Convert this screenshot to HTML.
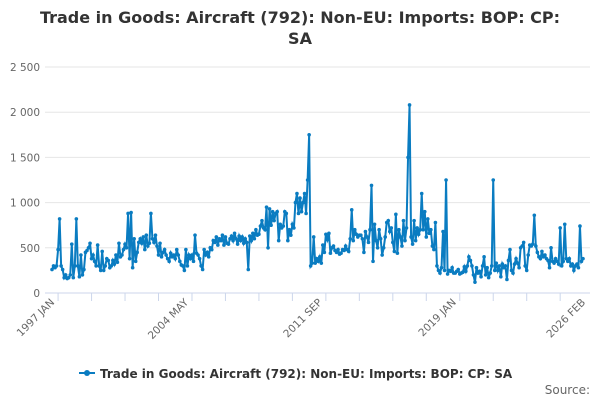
<!DOCTYPE html>
<html><head><meta charset="utf-8"><style>
body{margin:0;background:#fff;font-family:"DejaVu Sans","Liberation Sans",sans-serif}
svg{display:block;font-family:"DejaVu Sans","Liberation Sans",sans-serif}
</style></head><body>
<svg id="chart" width="600" height="400">
<text x="300" y="23" text-anchor="middle" font-size="16" font-weight="bold" fill="#333">Trade in Goods: Aircraft (792): Non-EU: Imports: BOP: CP:</text>
<text x="300" y="44" text-anchor="middle" font-size="16" font-weight="bold" fill="#333">SA</text>
<g id="grid"></g><g id="xaxis"></g><g id="series"></g>
<g>
<line x1="79" y1="373" x2="95" y2="373" stroke="#0a7cc1" stroke-width="2"/>
<circle cx="87" cy="373" r="3" fill="#0a7cc1"/>
<text x="100" y="378" font-size="12" font-weight="bold" fill="#333">Trade in Goods: Aircraft (792): Non-EU: Imports: BOP: CP: SA</text>
</g>
<text x="590" y="394" text-anchor="end" font-size="12" fill="#666">Source:</text>
</svg>
<script>
const yTicks=[0,500,1000,1500,2000,2500];
const yTickLabels=["0","500","1 000","1 500","2 000","2 500"];
const xLabels=["1997 JAN","2004 MAY","2011 SEP","2019 JAN","2026 FEB"];
const xLabelIdx=[0,88,176,264,349];
const values=[
260,300,280,300,480,820,300,260,170,200,
160,170,200,540,170,300,820,300,180,420,
200,260,450,470,500,550,380,420,350,300,
530,300,250,460,250,300,380,360,280,300,
360,320,420,340,550,400,420,480,540,500,
880,380,890,280,600,350,450,560,600,550,
620,480,640,520,550,880,600,560,640,520,
420,550,400,450,480,420,380,350,440,400,
420,380,480,420,350,310,300,250,480,300,
420,380,420,350,640,440,420,380,300,260,
480,420,450,400,500,480,580,560,620,530,
600,580,640,530,620,550,540,600,630,580,
660,600,540,630,580,620,550,600,560,260,
630,580,660,600,700,640,650,740,800,720,
700,950,500,930,750,900,800,880,900,580,
760,720,740,900,880,580,700,640,760,720,
1000,1100,880,1050,900,1000,1100,880,1250,1750,
300,330,620,330,380,350,400,330,530,450,
650,590,660,440,500,520,470,450,480,430,
440,480,470,520,480,460,600,920,580,700,
650,620,640,640,600,450,680,620,560,700,
1190,350,760,580,500,700,600,420,500,620,
780,800,680,720,560,460,870,440,700,620,
520,800,580,720,1500,2080,620,540,800,580,
720,650,700,1100,700,900,620,820,660,700,
520,480,780,300,250,220,280,680,250,1250,
210,250,240,280,220,220,240,260,210,220,
230,290,240,300,400,360,300,200,120,280,
220,240,180,300,400,200,280,170,220,300,
1250,250,330,250,300,180,320,280,300,150,
360,480,250,220,320,380,330,280,500,520,
560,300,250,420,530,520,540,860,520,450,
400,380,460,400,420,380,360,280,500,350,
330,380,350,320,720,300,350,760,380,350,
380,300,320,250,300,320,280,740,350,380];
const NS="http://www.w3.org/2000/svg";
const X0=52,X1=583,Y0=293,Y1=67,YMAX=2500;
const xs=i=>X0+(X1-X0)*i/(values.length-1);
const ys=v=>Y0-(Y0-Y1)*v/YMAX;
function mk(t,a,p){const e=document.createElementNS(NS,t);for(const k in a)e.setAttribute(k,a[k]);p.appendChild(e);return e;}
const grid=document.getElementById('grid');
yTicks.forEach((t,k)=>{
 const l=mk('line',{x1:45,x2:590,y1:ys(t),y2:ys(t),stroke:t===0?'#ccd6eb':'#e6e6e6'},grid);
 
 
 const tx=mk('text',{x:40,y:ys(t)+4,'text-anchor':'end','font-size':10.5,fill:'#666'},grid);
 tx.textContent=yTickLabels[k];
 
 
});
const xa=document.getElementById('xaxis');
for(let i=4;i<values.length;i+=22){
 const t=mk('line',{x1:xs(i),x2:xs(i),y1:Y0,y2:Y0+8,stroke:'#ccd6eb'},xa);
 
 
}
xLabels.forEach((s,k)=>{
 const x=xs(xLabelIdx[k])+3,y=Y0+10;
 const tx=mk('text',{x:x,y:y,'text-anchor':'end','font-size':10.5,fill:'#666',transform:`rotate(-45 ${x} ${y})`},xa);
 tx.textContent=s;
 
 
});
const sg=document.getElementById('series');
const pth=mk('path',{d:values.map((v,i)=>(i?'L':'M')+xs(i).toFixed(2)+' '+ys(v).toFixed(2)).join(''),fill:'none',stroke:'#0a7cc1','stroke-width':2},sg);


values.forEach((v,i)=>{
 const c=mk('circle',{cx:xs(i),cy:ys(v),r:1.8,fill:'#0a7cc1'},sg);
 
 
});
</script>
</body></html>
